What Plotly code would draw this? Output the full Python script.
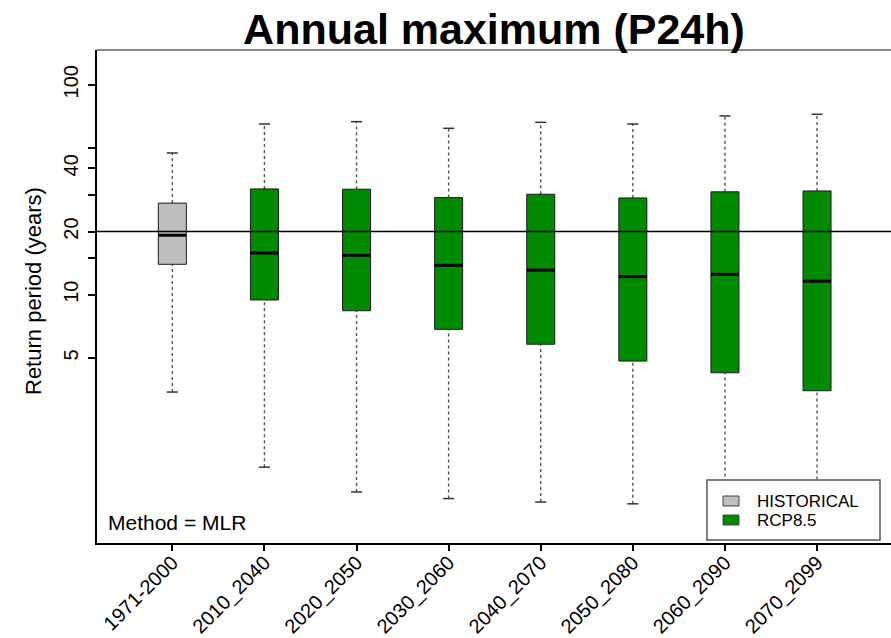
import plotly.graph_objects as go

# Return-period distributions per period (years)
periods = ["1971-2000", "2010_2040", "2020_2050", "2030_2060",
           "2040_2070", "2050_2080", "2060_2090", "2070_2099"]
scenario = ["HISTORICAL"] + ["RCP8.5"] * 7
whisker_low = [3.44, 1.51, 1.15, 1.07, 1.03, 1.01, 0.98, 0.95]
q1 = [13.96, 9.44, 8.39, 6.84, 5.81, 4.83, 4.25, 3.49]
median = [19.2, 15.8, 15.4, 13.8, 13.1, 12.2, 12.5, 11.6]
q3 = [27.3, 31.9, 31.8, 29.0, 30.1, 28.9, 30.9, 31.2]
whisker_high = [47.3, 65.0, 66.7, 62.0, 66.2, 65.0, 71.0, 72.3]

reference_period = 20
y_tick_vals = [5, 10, 15, 20, 30, 40, 50, 100]
y_tick_text = ["5", "10", "", "20", "", "40", "", "100"]

colors = {"HISTORICAL": "#BEBEBE", "RCP8.5": "#008B00"}

FONT = "Liberation Sans, Arial, Helvetica, sans-serif"
BOX_W = 0.304
STAPLE_W = 0.12
X_RANGE = [0.182, 8.803]
Y_RANGE_LOG = [-0.1823, 2.1653]

pos = list(range(1, len(periods) + 1))

fig = go.Figure()

# dashed whiskers
wx, wy = [], []
for c, lo, a, b, hi in zip(pos, whisker_low, q1, q3, whisker_high):
    wx += [c, c, None, c, c, None]
    wy += [lo, a, None, b, hi, None]
fig.add_trace(go.Scatter(x=wx, y=wy, mode="lines", hoverinfo="skip",
                         line=dict(color="#555555", width=1.4, dash="3px,3px"),
                         showlegend=False))

# whisker staples
sx, sy = [], []
for c, lo, hi in zip(pos, whisker_low, whisker_high):
    sx += [c - STAPLE_W / 2, c + STAPLE_W / 2, None, c - STAPLE_W / 2, c + STAPLE_W / 2, None]
    sy += [lo, lo, None, hi, hi, None]
fig.add_trace(go.Scatter(x=sx, y=sy, mode="lines", hoverinfo="skip",
                         line=dict(color="#333333", width=1.5), showlegend=False))

# boxes, one filled trace per scenario
for name, col in colors.items():
    bx, by = [], []
    for c, s, a, b in zip(pos, scenario, q1, q3):
        if s != name:
            continue
        l, r = c - BOX_W / 2, c + BOX_W / 2
        bx += [l, r, r, l, l, None]
        by += [a, a, b, b, a, None]
    fig.add_trace(go.Scatter(x=bx, y=by, mode="lines", fill="toself",
                             fillcolor=col, line=dict(color="#1a1a1a", width=1),
                             hoverinfo="skip", showlegend=False))

# medians
mx, my = [], []
for c, m in zip(pos, median):
    mx += [c - BOX_W / 2, c + BOX_W / 2, None]
    my += [m, m, None]
fig.add_trace(go.Scatter(x=mx, y=my, mode="lines", hoverinfo="skip",
                         line=dict(color="black", width=3), showlegend=False))

# reference return period line
fig.add_trace(go.Scatter(x=X_RANGE, y=[reference_period, reference_period],
                         mode="lines", hoverinfo="skip",
                         line=dict(color="black", width=1.6), showlegend=False))

# legend drawn in paper coordinates
def px_x(px):
    return (px - 97) / 794

def px_y(py):
    return (543 - py) / 493

shapes = [
    dict(type="line", xref="paper", yref="paper", x0=0, x1=1, y0=1, y1=1,
         line=dict(color="#8a8a8a", width=2)),
    dict(type="rect", xref="paper", yref="paper",
         x0=px_x(707), x1=px_x(880), y0=px_y(540), y1=px_y(480),
         fillcolor="white", line=dict(color="#555555", width=1.5)),
]
legend_rows = [("HISTORICAL", 496, 506, 501), ("RCP8.5", 515, 525, 520)]
annotations = []
for name, top, bot, mid in legend_rows:
    shapes.append(dict(type="rect", xref="paper", yref="paper",
                       x0=px_x(723), x1=px_x(739), y0=px_y(bot), y1=px_y(top),
                       fillcolor=colors[name], line=dict(color="#444444", width=1)))
    annotations.append(dict(text=name, xref="paper", yref="paper",
                            x=px_x(755), y=px_y(mid), xanchor="left", yanchor="middle",
                            showarrow=False, font=dict(size=17, color="black", family=FONT)))

annotations.append(dict(text="Method = MLR", xref="paper", yref="paper",
                        x=px_x(106), y=px_y(522), xanchor="left", yanchor="middle",
                        showarrow=False, font=dict(size=21, color="black", family=FONT)))
annotations.append(dict(text="Return period (years)", xref="paper", yref="paper",
                        x=px_x(33), y=px_y(291), xanchor="center", yanchor="middle",
                        textangle=-90, showarrow=False,
                        font=dict(size=22, color="black", family=FONT)))

fig.update_layout(
    width=891, height=638,
    margin=dict(l=97, r=0, t=50, b=95),
    paper_bgcolor="white", plot_bgcolor="white",
    title=dict(text="<b>Annual maximum (P24h)</b>", x=0.5, xref="paper",
               y=1 - 29 / 638, yref="container", xanchor="center", yanchor="middle",
               font=dict(size=43, color="black", family=FONT)),
    shapes=shapes, annotations=annotations,
    font=dict(family=FONT, color="black"),
)

fig.update_xaxes(range=X_RANGE, tickvals=pos, ticktext=periods, tickangle=-45,
                 ticks="outside", ticklen=6, tickwidth=1.5, tickcolor="black",
                 showline=True, linecolor="black", linewidth=2, showgrid=False,
                 zeroline=False, automargin=False, ticklabelstandoff=-8,
                 tickfont=dict(size=20, family=FONT, color="black"))
fig.update_yaxes(type="log", range=Y_RANGE_LOG, tickvals=y_tick_vals, ticktext=y_tick_text,
                 tickangle=-90, ticks="outside", ticklen=7, tickwidth=1.5, tickcolor="black",
                 showline=True, linecolor="black", linewidth=2, showgrid=False,
                 zeroline=False, automargin=False, ticklabelstandoff=2,
                 tickfont=dict(size=20, family=FONT, color="black"))

fig.write_html("out.html")
